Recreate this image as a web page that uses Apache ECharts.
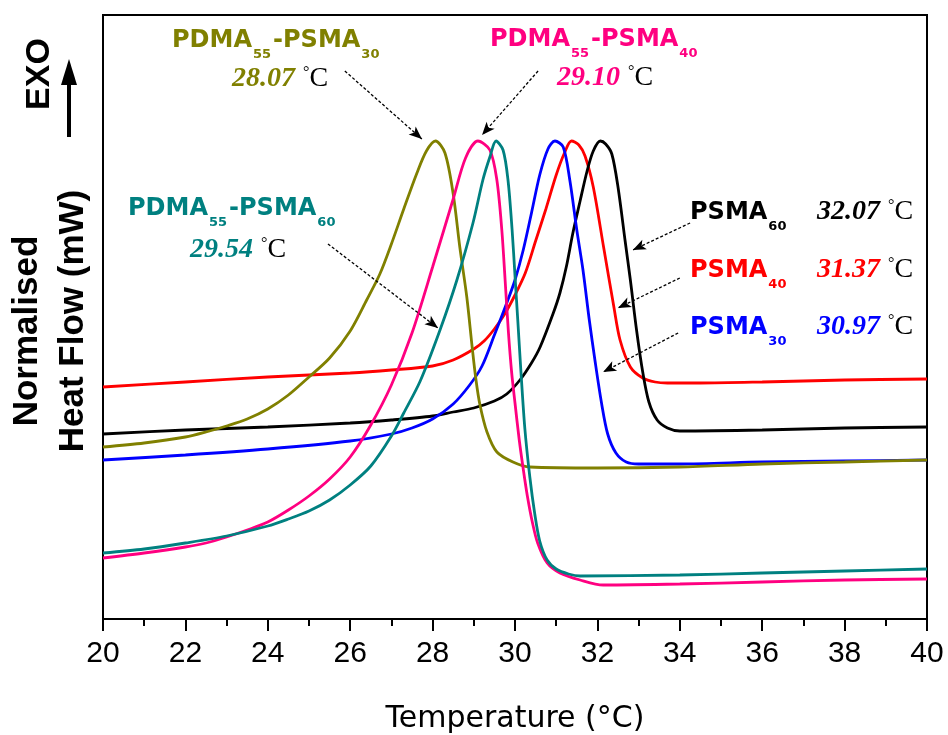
<!DOCTYPE html>
<html>
<head>
<meta charset="utf-8">
<script src="https://cdn.jsdelivr.net/npm/echarts@6/dist/echarts.min.js"></script>
<style>html,body{margin:0;padding:0;background:#fff}#c{width:948px;height:735px}</style>
</head>
<body>
<div id="c"></div>
<script>
// ---- Data (Temperature in °C, normalised heat flow in arbitrary units) ----
const xTicks = [20, 22, 24, 26, 28, 30, 32, 34, 36, 38, 40];

const psma40T = [20, 22, 24, 26, 27, 28, 28.5, 29.0, 29.25, 29.5, 29.75, 30.0, 30.25, 30.5, 30.75, 31.0, 31.2, 31.37, 31.55, 31.7, 31.9, 32.15, 32.4, 32.55, 32.8, 33.1, 33.4, 33.7, 34.5, 36, 38, 40];
const psma40Heat = [23.2, 23.7, 24.2, 24.6, 24.9, 25.3, 25.9, 27.0, 27.8, 29.0, 30.5, 32.4, 34.6, 37.8, 41.0, 44.4, 46.6, 47.8, 47.4, 46.3, 43.2, 37.2, 31.2, 27.9, 25.2, 24.1, 23.7, 23.6, 23.6, 23.7, 23.9, 24.0];

const psma60T = [20, 22, 24, 26, 27, 28, 28.5, 29, 29.5, 29.8, 30.12, 30.4, 30.61, 30.93, 31.09, 31.25, 31.4, 31.58, 31.75, 31.9, 32.07, 32.2, 32.35, 32.5, 32.67, 32.8, 32.95, 33.1, 33.25, 33.45, 33.7, 34, 36, 38, 40];
const psma60Heat = [18.5, 18.9, 19.2, 19.6, 19.9, 20.3, 20.7, 21.1, 21.8, 22.5, 23.9, 25.6, 27.2, 30.6, 32.6, 35.3, 38.5, 41.8, 44.8, 46.8, 47.8, 47.5, 46.5, 43.2, 37.9, 33.9, 28.9, 24.7, 21.7, 19.9, 19.1, 18.8, 18.9, 19.1, 19.2];

const psma30T = [20, 22, 24, 26, 27, 27.5, 28, 28.5, 28.9, 29.2, 29.5, 29.8, 30.0, 30.2, 30.4, 30.6, 30.8, 30.97, 31.17, 31.33, 31.5, 31.65, 31.8, 31.95, 32.1, 32.25, 32.45, 32.7, 33.0, 34, 36, 38, 40];
const psma30Heat = [15.9, 16.4, 17.0, 17.8, 18.5, 19.1, 20.0, 21.5, 23.4, 25.3, 28.4, 31.6, 33.9, 36.9, 40.6, 44.4, 47.0, 47.8, 47.2, 43.9, 38.9, 34.9, 30.0, 25.6, 21.6, 18.5, 16.6, 15.7, 15.5, 15.5, 15.7, 15.8, 15.9];

const pdma30T = [20, 21, 22, 22.5, 23, 23.5, 24, 24.5, 25, 25.5, 26, 26.4, 26.72, 27.0, 27.3, 27.62, 27.85, 28.07, 28.3, 28.5, 28.66, 28.83, 28.96, 29.05, 29.15, 29.32, 29.56, 29.95, 30.36, 32, 34, 36, 38, 40];
const pdma30Heat = [17.2, 17.6, 18.2, 18.7, 19.3, 20.0, 21.0, 22.4, 24.2, 26.1, 28.8, 31.9, 34.5, 37.5, 41.0, 44.6, 46.8, 47.8, 46.6, 42.5, 37.2, 32.2, 27.2, 24.0, 21.4, 18.7, 16.7, 15.7, 15.2, 15.1, 15.2, 15.5, 15.7, 15.9];

const pdma40T = [20, 21, 22, 22.5, 23, 23.5, 24, 24.5, 25, 25.5, 26, 26.5, 27, 27.5, 28, 28.5, 28.8, 29.1, 29.39, 29.56, 29.68, 29.76, 29.84, 29.92, 30.0, 30.1, 30.2, 30.3, 30.42, 30.55, 30.78, 31.09, 31.58, 32.14, 34, 36, 38, 40];
const pdma40Heat = [6.1, 6.6, 7.2, 7.6, 8.2, 8.9, 9.7, 10.9, 12.3, 14.0, 16.2, 19.4, 23.4, 28.6, 35.2, 42.0, 46.1, 47.8, 46.9, 43.9, 38.9, 33.9, 28.7, 24.6, 21.6, 18.0, 15.0, 12.3, 9.7, 7.6, 5.6, 4.6, 3.9, 3.4, 3.5, 3.7, 3.9, 4.0];

const pdma60T = [20, 21, 22, 23, 24, 24.5, 25, 25.5, 26, 26.5, 27, 27.3, 27.7, 28.18, 28.59, 28.98, 29.22, 29.39, 29.54, 29.71, 29.83, 29.93, 30.0, 30.07, 30.14, 30.24, 30.36, 30.48, 30.6, 30.78, 31.0, 31.3, 31.58, 34, 36, 38, 40];
const pdma60Heat = [6.6, 7.0, 7.6, 8.3, 9.3, 10.0, 10.8, 11.9, 13.4, 15.3, 18.3, 20.6, 23.8, 28.9, 33.9, 39.6, 43.9, 46.2, 47.8, 46.9, 43.9, 38.9, 34.3, 29.7, 25.0, 19.0, 14.2, 10.5, 7.8, 5.9, 5.0, 4.5, 4.3, 4.4, 4.6, 4.8, 5.0];

// annotation arrows: [fromT, fromHeat, toT, toHeat]
const arrows = [
  [25.87, 54.8, 27.74, 48.0],
  [30.56, 54.8, 29.20, 48.4],
  [25.46, 37.5, 28.13, 29.1],
  [34.25, 39.6, 32.86, 36.9],
  [34.00, 34.1, 32.50, 31.1],
  [33.96, 28.6, 32.14, 24.7]
];

const pairs = (t, v) => t.map((x, i) => [x, v[i]]);

const C_OLIVE = '#808000', C_MAG = '#ff0080', C_TEAL = '#008080', C_BLUE = '#0000ff', C_RED = '#ff0000', C_BLK = '#000000';

function mkSeries(name, t, v, color, extra) {
  return Object.assign({
    name, type: 'line', data: pairs(t, v), showSymbol: false, symbol: 'none',
    smooth: 0.3,
    lineStyle: { color, width: 2.8 }, itemStyle: { color },
    silent: true, animation: false
  }, extra || {});
}

const TITLE_FONT = 'DejaVu Sans';
const NUM_FONT = 'Liberation Serif';
function titleRich(color) {
  return {
    m: { fontFamily: TITLE_FONT, fontWeight: 'bold', fontSize: 24, lineHeight: 24, verticalAlign: 'top', fill: color },
    s: { fontFamily: TITLE_FONT, fontWeight: 'bold', fontSize: 13, lineHeight: 13, verticalAlign: 'top', padding: [19, 2, 0, 1], fill: color }
  };
}
function valRich(color) {
  return {
    v: { fontFamily: NUM_FONT, fontWeight: 'bold', fontStyle: 'italic', fontSize: 28, lineHeight: 28, verticalAlign: 'top', fill: color },
    d: { fontFamily: NUM_FONT, fontSize: 16, lineHeight: 16, verticalAlign: 'top', padding: [0, 0, 0, 8], fill: '#000' },
    c: { fontFamily: NUM_FONT, fontSize: 28, lineHeight: 28, verticalAlign: 'top', fill: '#000' }
  };
}
function txt(x, y, text, rich) {
  return { type: 'text', x, y, silent: true, style: { text, rich, textAlign: 'left', textVerticalAlign: 'top' } };
}

const graphics = [
  txt(172, 29, '{m|PDMA}{s|55}{m|-PSMA}{s|30}', titleRich(C_OLIVE)),
  txt(232, 65, '{v|28.07}{d|°}{c|C}', valRich(C_OLIVE)),
  txt(490, 28, '{m|PDMA}{s|55}{m|-PSMA}{s|40}', titleRich(C_MAG)),
  txt(557, 64, '{v|29.10}{d|°}{c|C}', valRich(C_MAG)),
  txt(128, 197, '{m|PDMA}{s|55}{m|-PSMA}{s|60}', titleRich(C_TEAL)),
  txt(190, 236, '{v|29.54}{d|°}{c|C}', valRich(C_TEAL)),
  txt(690, 201, '{m|PSMA}{s|60}', titleRich(C_BLK)),
  txt(817, 198, '{v|32.07}{d|°}{c|C}', valRich(C_BLK)),
  txt(690, 259, '{m|PSMA}{s|40}', titleRich(C_RED)),
  txt(817, 256, '{v|31.37}{d|°}{c|C}', valRich(C_RED)),
  txt(690, 316, '{m|PSMA}{s|30}', titleRich(C_BLUE)),
  txt(817, 313, '{v|30.97}{d|°}{c|C}', valRich(C_BLUE)),
  { type: 'text', x: 27, y: 331, rotation: Math.PI / 2, silent: true,
    style: { text: 'Normalised', fontFamily: 'Liberation Sans', fontWeight: 'bold', fontSize: 35, fill: '#000', textAlign: 'center', textVerticalAlign: 'middle' } },
  { type: 'text', x: 73, y: 321, rotation: Math.PI / 2, silent: true,
    style: { text: 'Heat Flow (mW)', fontFamily: 'Liberation Sans', fontWeight: 'bold', fontSize: 35, fill: '#000', textAlign: 'center', textVerticalAlign: 'middle' } },
  { type: 'text', x: 40, y: 74, rotation: Math.PI / 2, silent: true,
    style: { text: 'EXO', fontFamily: 'Liberation Sans', fontWeight: 'bold', fontSize: 34, fill: '#000', textAlign: 'center', textVerticalAlign: 'middle' } },
  { type: 'line', silent: true, shape: { x1: 69, y1: 137, x2: 69, y2: 80 }, style: { stroke: '#000', lineWidth: 4 } },
  { type: 'polygon', silent: true, shape: { points: [[61, 85], [77, 85], [69, 59]] }, style: { fill: '#000' } }
];

const chart = echarts.init(document.getElementById('c'), null, { renderer: 'canvas' });
chart.setOption({
  backgroundColor: '#fff',
  animation: false,
  grid: { left: 103, right: 21, top: 15, bottom: 116, show: true, borderColor: '#000', borderWidth: 2, backgroundColor: 'transparent', outerBoundsMode: 'none' },
  xAxis: {
    type: 'value', min: xTicks[0], max: xTicks[xTicks.length - 1], interval: 2,
    name: 'Temperature (°C)', nameLocation: 'middle', nameGap: 85,
    nameTextStyle: { fontFamily: 'DejaVu Sans', fontSize: 30, color: '#000' },
    axisLine: { show: true, lineStyle: { color: '#000', width: 2 } },
    axisTick: { show: true, length: 12, inside: false, lineStyle: { color: '#000', width: 2 } },
    minorTick: { show: true, splitNumber: 2, length: 7, lineStyle: { color: '#000', width: 2 } },
    axisLabel: { fontFamily: 'Liberation Sans', fontSize: 30, color: '#000', margin: 20 },
    splitLine: { show: false }
  },
  yAxis: {
    type: 'value', min: 0, max: 60.4,
    axisLine: { show: true, lineStyle: { color: '#000', width: 2 } },
    axisTick: { show: false }, axisLabel: { show: false }, splitLine: { show: false }
  },
  series: [
    mkSeries('PSMA40', psma40T, psma40Heat, C_RED),
    mkSeries('PSMA60', psma60T, psma60Heat, C_BLK, {
      markLine: {
        silent: true, animation: false,
        symbol: ['none', 'arrow'], symbolSize: [8, 13],
        label: { show: false },
        lineStyle: { color: '#000', width: 1.3, type: [3, 2] },
        emphasis: { disabled: true },
        data: arrows.map(a => [{ coord: [a[0], a[1]] }, { coord: [a[2], a[3]] }])
      }
    }),
    mkSeries('PSMA30', psma30T, psma30Heat, C_BLUE),
    mkSeries('PDMA55-PSMA30', pdma30T, pdma30Heat, C_OLIVE),
    mkSeries('PDMA55-PSMA40', pdma40T, pdma40Heat, C_MAG),
    mkSeries('PDMA55-PSMA60', pdma60T, pdma60Heat, C_TEAL)
  ],
  graphic: graphics
});
</script>
</body>
</html>
